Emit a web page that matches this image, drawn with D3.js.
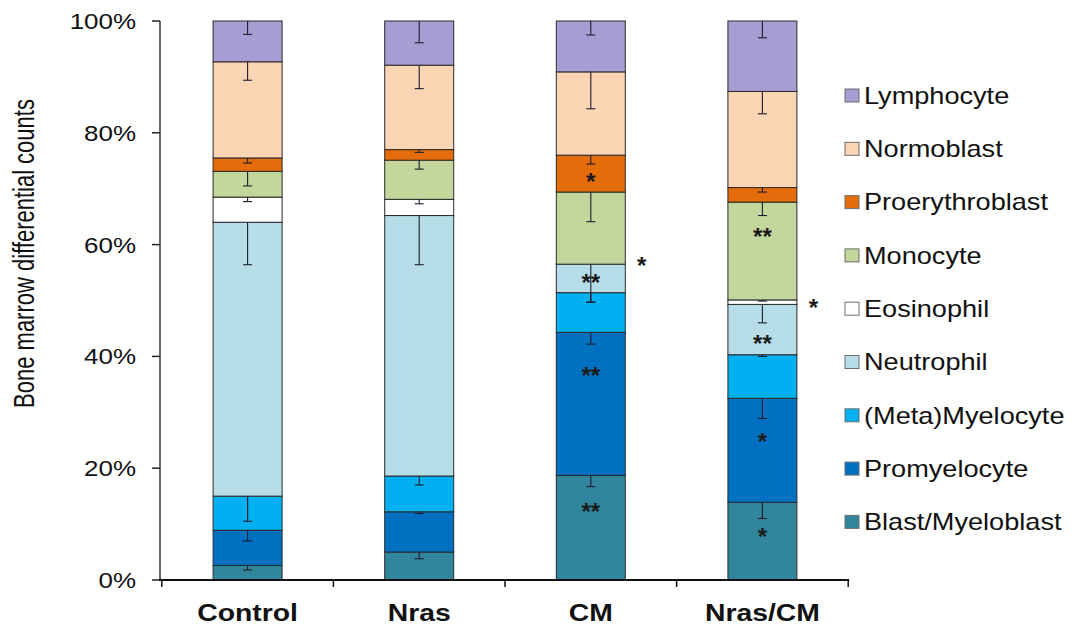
<!DOCTYPE html>
<html>
<head>
<meta charset="utf-8">
<script src="https://cdn.jsdelivr.net/npm/d3@7"></script>
<style>
  html, body { margin: 0; padding: 0; background: #fff; }
  svg text { font-family: "Liberation Sans", Arial, sans-serif; fill: #111; }
</style>
</head>
<body>
<svg id="chart" width="1077" height="628"></svg>
<script>
// Groups along the x axis
const groups = ["Control", "Nras", "CM", "Nras/CM"];

// Cell types, in stacking order (bottom to top)
const cellTypes = ["Blast/Myeloblast", "Promyelocyte", "(Meta)Myelocyte", "Neutrophil",
  "Eosinophil", "Monocyte", "Proerythroblast", "Normoblast", "Lymphocyte"];

// Percentage of bone marrow cells, one value per group
const blast           = [2.6, 5.0, 18.7, 13.9];
const promyelocyte    = [6.3, 7.2, 25.6, 18.6];
const metamyelocyte   = [6.1, 6.4, 7.1, 7.8];
const neutrophil      = [49.0, 46.6, 5.1, 9.0];
const eosinophil      = [4.5, 2.9, 0.0, 0.8];
const monocyte        = [4.6, 7.0, 12.9, 17.5];
const proerythroblast = [2.4, 1.9, 6.6, 2.6];
const normoblast      = [17.2, 15.1, 14.9, 17.2];
const lymphocyte      = [7.3, 7.9, 9.1, 12.6];

// Standard error of each percentage (drawn downward from the segment top)
const blastErr           = [0.8, 1.2, 2.0, 2.9];
const promyelocyteErr    = [1.9, 0.3, 2.1, 3.6];
const metamyelocyteErr   = [4.5, 1.6, 1.7, 0.3];
const neutrophilErr      = [7.6, 8.8, 6.8, 3.3];
const eosinophilErr      = [0.8, 0.8, 0.0, 0.2];
const monocyteErr        = [2.6, 1.6, 5.3, 2.4];
const proerythroblastErr = [0.9, 0.5, 1.6, 0.8];
const normoblastErr      = [3.3, 4.2, 6.6, 4.0];
const lymphocyteErr      = [2.4, 3.9, 2.5, 3.0];

// Segment fills, one per cell type
const cellColors = ["#31859c", "#0070c0", "#00b0f0", "#b7dee8", "#ffffff",
  "#c3d69b", "#e46c0a", "#fcd5b5", "#a89dd2"];

// Y axis tick values
const yTicks = [0, 0.2, 0.4, 0.6, 0.8, 1.0];

// Significance marks: group, cell type, mark, level (%) and whether it sits beside the bar
const sigGroup = ["CM", "CM", "CM", "CM", "CM", "Nras/CM", "Nras/CM", "Nras/CM", "Nras/CM", "Nras/CM"];
const sigCell  = ["Proerythroblast", "Eosinophil", "Neutrophil", "Promyelocyte", "Blast/Myeloblast",
  "Monocyte", "Eosinophil", "Neutrophil", "Promyelocyte", "Blast/Myeloblast"];
const sigMark  = ["*", "*", "**", "**", "**", "**", "*", "**", "*", "*"];
const sigLevel = [72.1, 57.1, 54.1, 37.3, 13.0, 62.3, 49.5, 43.1, 25.6, 8.6];
const sigBeside = [false, true, false, false, false, false, true, false, false, false];

const values = [blast, promyelocyte, metamyelocyte, neutrophil, eosinophil,
  monocyte, proerythroblast, normoblast, lymphocyte];
const errors = [blastErr, promyelocyteErr, metamyelocyteErr, neutrophilErr, eosinophilErr,
  monocyteErr, proerythroblastErr, normoblastErr, lymphocyteErr];

// Build one row per group for d3.stack
const table = groups.map((g, gi) => {
  const row = { group: g };
  cellTypes.forEach((c, ci) => { row[c] = values[ci][gi] / 100; });
  return row;
});

const svg = d3.select("#chart");
const SX = 1.18; // horizontal glyph stretch used for all labels

const x = d3.scaleBand().domain(groups).range([161.8, 848.2]).padding(0);
const barW = x.bandwidth() * 0.402;
const y = d3.scaleLinear().domain([0, 1]).range([580, 21]);
const color = d3.scaleOrdinal().domain(cellTypes).range(cellColors);

const series = d3.stack().keys(cellTypes)(table);

// Stacked segments
const layers = svg.append("g").selectAll("g").data(series).join("g")
  .attr("fill", d => color(d.key));
layers.selectAll("rect").data(d => d.map(p => ({ p, key: d.key })))
  .join("rect")
  .attr("x", d => x(d.p.data.group) + (x.bandwidth() - barW) / 2)
  .attr("y", d => y(d.p[1]))
  .attr("width", barW)
  .attr("height", d => Math.max(0, y(d.p[0]) - y(d.p[1])))
  .attr("stroke", "#2a2a2a")
  .attr("stroke-width", 1);

// Error bars: downward whisker from each segment top
const errG = svg.append("g").attr("stroke", "#1c1c2c").attr("stroke-width", 1.1).attr("fill", "none");
series.forEach((s, ci) => {
  s.forEach((p, gi) => {
    const e = errors[ci][gi] / 100;
    if (e <= 0) return;
    const cx = x(p.data.group) + x.bandwidth() / 2;
    const y1 = y(p[1]), y2 = y(p[1] - e);
    errG.append("line").attr("x1", cx).attr("x2", cx).attr("y1", y1).attr("y2", y2);
    errG.append("line").attr("x1", cx - 4.5).attr("x2", cx + 4.5).attr("y1", y2).attr("y2", y2);
  });
});

// Significance marks
sigMark.forEach((m, i) => {
  const cx = x(sigGroup[i]) + x.bandwidth() / 2 + (sigBeside[i] ? 51 : 0);
  svg.append("text")
    .attr("transform", `translate(${cx},${y(sigLevel[i] / 100) + 13}) scale(1.05,1)`)
    .attr("text-anchor", "middle")
    .style("font-size", "23px")
    .style("font-weight", "bold")
    .style("fill", "#1a1a1a")
    .text(m);
});

// Y axis
const yAxis = svg.append("g");
yAxis.append("line").attr("x1", 160).attr("x2", 160).attr("y1", y(1)).attr("y2", y(0))
  .attr("stroke", "#333").attr("stroke-width", 1.5);
yTicks.forEach(t => {
  yAxis.append("line").attr("x1", 152).attr("x2", 160).attr("y1", y(t)).attr("y2", y(t))
    .attr("stroke", "#222").attr("stroke-width", 1.5);
  yAxis.append("text")
    .attr("transform", `translate(136,${y(t) + 8}) scale(${SX},1)`)
    .attr("text-anchor", "end")
    .style("font-size", "22px")
    .text(d3.format(".0%")(t));
});

// X axis baseline and ticks between groups
const xAxis = svg.append("g");
xAxis.append("line").attr("x1", 159).attr("x2", x.range()[1] + 1).attr("y1", y(0)).attr("y2", y(0))
  .attr("stroke", "#111").attr("stroke-width", 2);
const bounds = groups.map(g => x(g)).concat([x.range()[1]]);
bounds.forEach(b => {
  xAxis.append("line").attr("x1", b).attr("x2", b).attr("y1", y(0)).attr("y2", y(0) + 7)
    .attr("stroke", "#111").attr("stroke-width", 1.5);
});
groups.forEach(g => {
  xAxis.append("text")
    .attr("transform", `translate(${x(g) + x.bandwidth() / 2},621) scale(${SX},1)`)
    .attr("text-anchor", "middle")
    .style("font-size", "24px")
    .style("font-weight", "bold")
    .text(g);
});

// Y axis title
svg.append("text")
  .attr("transform", `translate(34,253.5) scale(1.3,1) rotate(-90)`)
  .attr("text-anchor", "middle")
  .style("font-size", "22px")
  .text("Bone marrow differential counts");

// Legend, top entry is the top segment
const legendOrder = cellTypes.slice().reverse();
const legend = svg.append("g");
legendOrder.forEach((c, i) => {
  const cy = 95.5 + i * 53.3;
  legend.append("rect")
    .attr("x", 845).attr("y", cy - 6.5).attr("width", 14).attr("height", 13)
    .attr("fill", color(c)).attr("stroke", "#6f6f6f").attr("stroke-width", 1);
  legend.append("text")
    .attr("transform", `translate(864,${cy + 8.3}) scale(${SX},1)`)
    .style("font-size", "23px")
    .text(c);
});
</script>
</body>
</html>
